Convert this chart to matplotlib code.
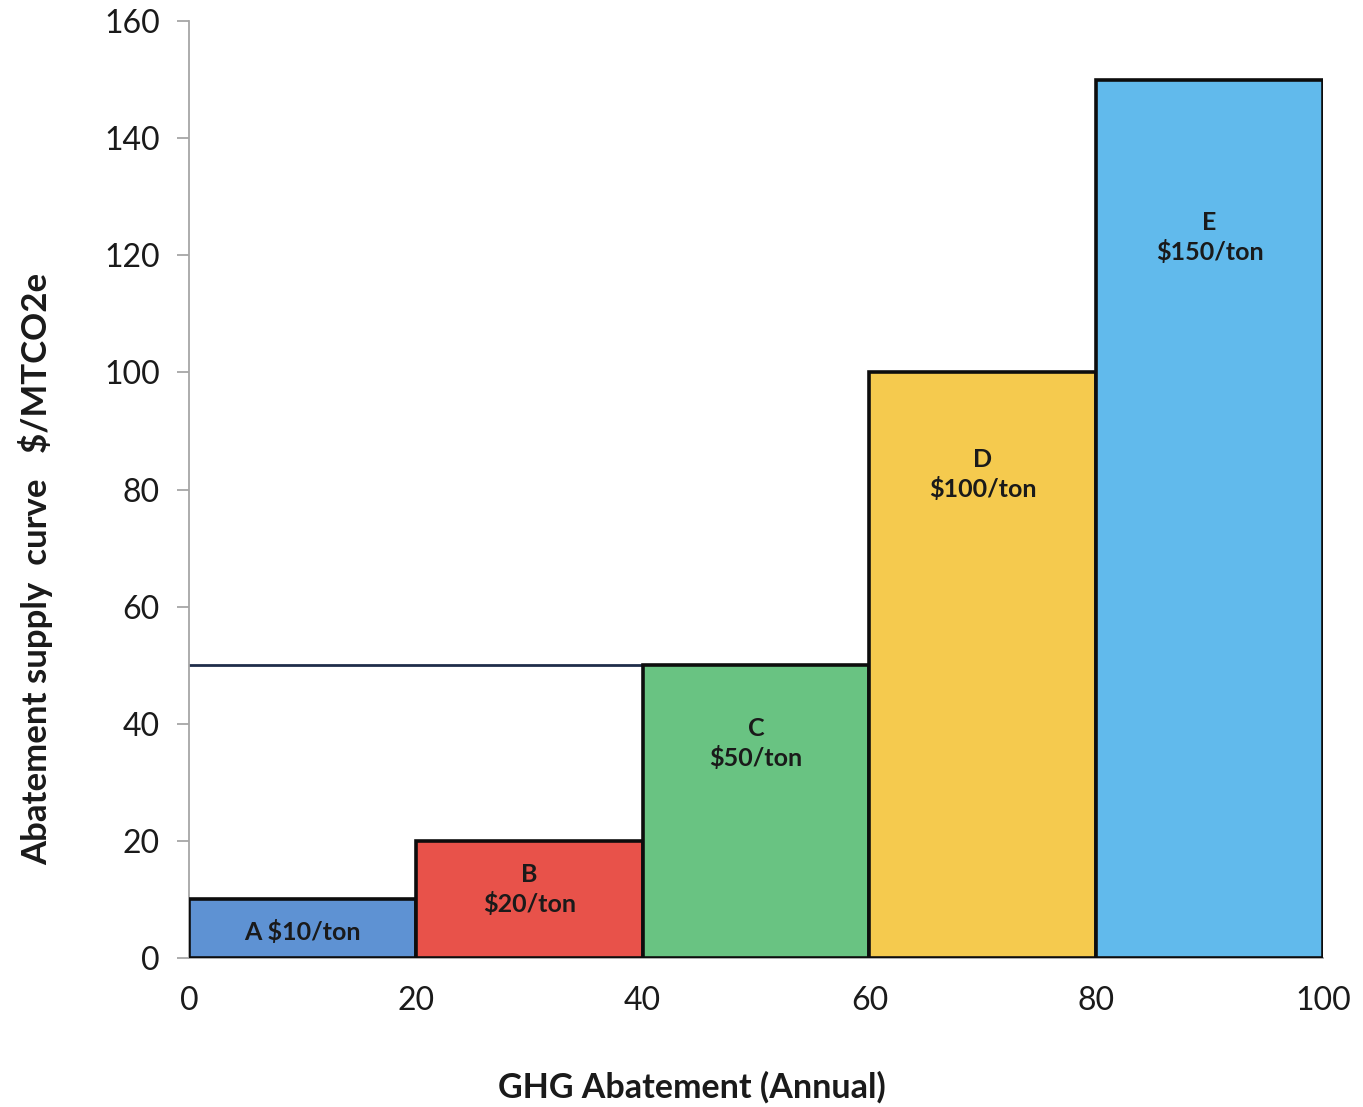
import matplotlib.pyplot as plt

# abatement options, each covering 20 units of annual abatement
options = ['A', 'B', 'C', 'D', 'E']
widths = [20, 20, 20, 20, 20]
costs = [10, 20, 50, 100, 150]
colors = ['#5E92D3', '#E8524A', '#69C382', '#F5CA4E', '#61BAEC']
carbon_price = 50
price_line_end = 40

# where the cost labels sit inside each bar (y in $/t)
label_y = [4.4, 11.7, 36.6, 82.5, 123.0]

plt.rcParams['font.family'] = ['Lato', 'DejaVu Sans']

fig = plt.figure(figsize=(13.63, 11.07), dpi=100)
ax = fig.add_axes([0.1387, 0.1346, 0.8320, 0.8464])

lefts = []
x = 0
for w in widths:
    lefts.append(x)
    x += w

ax.bar(lefts, costs, width=widths, align='edge', color=colors,
       edgecolor='#0d0d0d', linewidth=2.6, zorder=3)

ax.plot([0, price_line_end], [carbon_price, carbon_price],
        color='#1f2d4a', linewidth=2, zorder=2)

for name, left, w, c, y in zip(options, lefts, widths, costs, label_y):
    if name == 'A':
        txt = f'{name} ${c}/ton'
    else:
        txt = f'{name}\n${c}/ton'
    ax.text(left + w / 2, y, txt, ha='center', va='center', fontsize=18,
            fontweight='bold', color='#1a1a1a', linespacing=1.3, zorder=4)

ax.set_xlim(0, 100)
ax.set_ylim(0, 160)
ax.set_xticks(range(0, 101, 20))
ax.set_yticks(range(0, 161, 20))

for s in ['top', 'right']:
    ax.spines[s].set_visible(False)
for s in ['left', 'bottom']:
    ax.spines[s].set_color('#a6a6a6')
    ax.spines[s].set_linewidth(1.3)

ax.tick_params(axis='x', length=0, pad=20, labelsize=23, labelcolor='#1a1a1a')
ax.tick_params(axis='y', length=9, width=1.3, color='#a6a6a6', pad=12,
               labelsize=23, labelcolor='#1a1a1a')

ax.set_xlabel('GHG Abatement (Annual)', fontsize=24.5, fontweight='bold',
              color='#1a1a1a')
ax.xaxis.set_label_coords(0.4436, -0.121)
ax.set_ylabel('Abatement supply  curve   $/MTCO2e', fontsize=25,
              fontweight='bold', color='#1a1a1a')
ax.yaxis.set_label_coords(-0.12, 0.415)

fig.savefig('out.png', dpi=100)
